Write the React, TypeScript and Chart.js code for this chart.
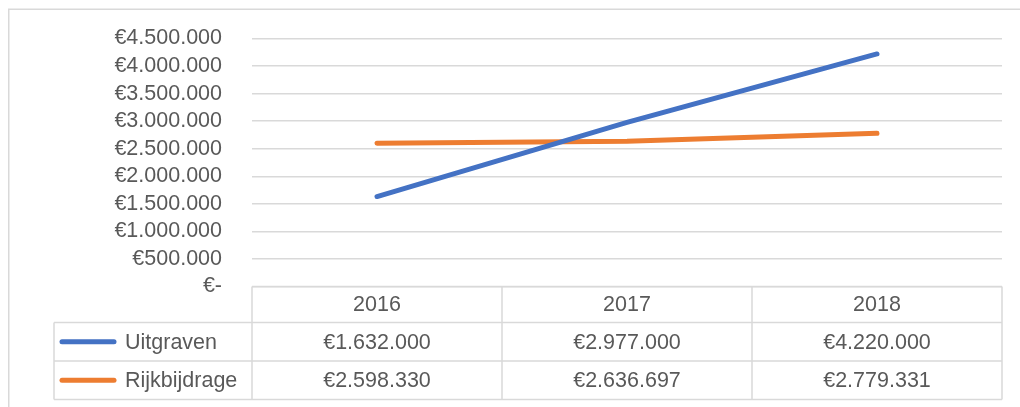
import React, { useEffect, useRef } from "react";
import { Chart, registerables } from "chart.js";

Chart.register(...registerables);

const years = ["2016", "2017", "2018"];
const uitgraven = [1632000, 2977000, 4220000];
const rijkbijdrage = [2598330, 2636697, 2779331];
const seriesNames = ["Uitgraven", "Rijkbijdrage"];
const seriesColors = ["#4472C4", "#ED7D31"];
const yMax = 4500000;
const yStep = 500000;

const FONT = "'Liberation Sans', Arial, sans-serif";
const FONT_SIZE = 21.5;
const TEXT_COLOR = "#595959";
const LINE_COLOR = "#D9D9D9";

function euro(v: number): string {
  if (v === 0) return "€-";
  return "€" + String(Math.round(v)).replace(/\B(?=(\d{3})+(?!\d))/g, ".");
}

const tablePlugin = {
  id: "dataTable",
  beforeDraw(chart: any) {
    const ctx = chart.ctx;
    ctx.save();
    ctx.fillStyle = "#ffffff";
    ctx.fillRect(0, 0, chart.width, chart.height);
    ctx.strokeStyle = LINE_COLOR;
    ctx.lineWidth = 1.5;
    ctx.strokeRect(8.75, 9.25, chart.width + 100, chart.height + 100);
    ctx.restore();
  },
  afterDraw(chart: any) {
    const ctx = chart.ctx;
    const xs = chart.scales.x;
    const area = chart.chartArea;
    const n = years.length;
    const centers = years.map((_, i) => xs.getPixelForValue(i));
    const half = (centers[1] - centers[0]) / 2;
    const bounds = [centers[0] - half, ...centers.map((c) => c + half)];
    const right = bounds[bounds.length - 1];
    const legendLeft = 54;
    const top = area.bottom;
    const headerH = 36;
    const rowH = 38.5;
    const rowsTop = top + headerH;
    const bottom = rowsTop + rowH * seriesNames.length;

    ctx.save();
    ctx.strokeStyle = LINE_COLOR;
    ctx.lineWidth = 1.5;
    const hline = (x1: number, x2: number, y: number) => {
      ctx.beginPath();
      ctx.moveTo(x1, y);
      ctx.lineTo(x2, y);
      ctx.stroke();
    };
    const vline = (x: number, y1: number, y2: number) => {
      ctx.beginPath();
      ctx.moveTo(x, y1);
      ctx.lineTo(x, y2);
      ctx.stroke();
    };
    hline(bounds[0], right, top);
    for (let r = 0; r <= seriesNames.length; r++) {
      hline(legendLeft, right, rowsTop + r * rowH);
    }
    vline(legendLeft, rowsTop, bottom);
    bounds.forEach((b) => vline(b, top, bottom));

    ctx.fillStyle = TEXT_COLOR;
    ctx.font = `${FONT_SIZE}px ${FONT}`;
    ctx.textBaseline = "middle";
    ctx.textAlign = "center";
    for (let i = 0; i < n; i++) {
      ctx.fillText(years[i], centers[i], top + headerH / 2 + 1);
    }
    const seriesData = [uitgraven, rijkbijdrage];
    seriesNames.forEach((name, r) => {
      const cy = rowsTop + r * rowH + rowH / 2 + 1;
      ctx.strokeStyle = seriesColors[r];
      ctx.lineWidth = 5;
      ctx.lineCap = "round";
      ctx.beginPath();
      ctx.moveTo(62, cy - 1);
      ctx.lineTo(114, cy - 1);
      ctx.stroke();
      ctx.fillStyle = TEXT_COLOR;
      ctx.textAlign = "left";
      ctx.fillText(name, 125, cy);
      ctx.textAlign = "center";
      for (let i = 0; i < n; i++) {
        ctx.fillText(euro(seriesData[r][i]), centers[i], cy);
      }
    });
    ctx.restore();
  },
};

export default function App() {
  const canvasRef = useRef<HTMLCanvasElement | null>(null);

  useEffect(() => {
    if (!canvasRef.current) return;
    const chart = new Chart(canvasRef.current, {
      type: "line",
      data: {
        labels: years,
        datasets: [
          {
            label: seriesNames[0],
            data: uitgraven,
            borderColor: seriesColors[0],
            backgroundColor: seriesColors[0],
            borderWidth: 5,
            borderCapStyle: "round",
            pointRadius: 0,
            tension: 0,
          },
          {
            label: seriesNames[1],
            data: rijkbijdrage,
            borderColor: seriesColors[1],
            backgroundColor: seriesColors[1],
            borderWidth: 5,
            borderCapStyle: "round",
            pointRadius: 0,
            tension: 0,
          },
        ],
      },
      options: {
        animation: false,
        responsive: false,
        maintainAspectRatio: false,
        layout: { padding: { top: 38.5, right: 18, left: 0, bottom: 0 } },
        plugins: {
          legend: { display: false },
          tooltip: { enabled: false },
          title: { display: false },
        },
        scales: {
          x: {
            type: "category",
            offset: true,
            ticks: { display: false },
            grid: { display: false },
            border: { display: false },
            afterFit: (s: any) => {
              s.height = 120.5;
            },
          },
          y: {
            min: 0,
            max: yMax,
            ticks: {
              stepSize: yStep,
              autoSkip: false,
              padding: 0,
              color: TEXT_COLOR,
              font: { family: FONT, size: FONT_SIZE },
              callback: (v: any) => euro(Number(v)),
            },
            grid: {
              color: LINE_COLOR,
              lineWidth: 1.5,
              drawTicks: true,
              tickLength: 30,
              tickColor: "rgba(0,0,0,0)",
            },
            border: { display: false },
            afterFit: (s: any) => {
              s.width = 252;
            },
          },
        },
      },
      plugins: [tablePlugin],
    });
    return () => chart.destroy();
  }, []);

  return (
    <div
      style={{
        position: "fixed",
        left: 0,
        top: 0,
        width: 1020,
        height: 407,
        background: "#fff",
      }}
    >
      <canvas ref={canvasRef} width={1020} height={407} style={{ display: "block" }} />
    </div>
  );
}
